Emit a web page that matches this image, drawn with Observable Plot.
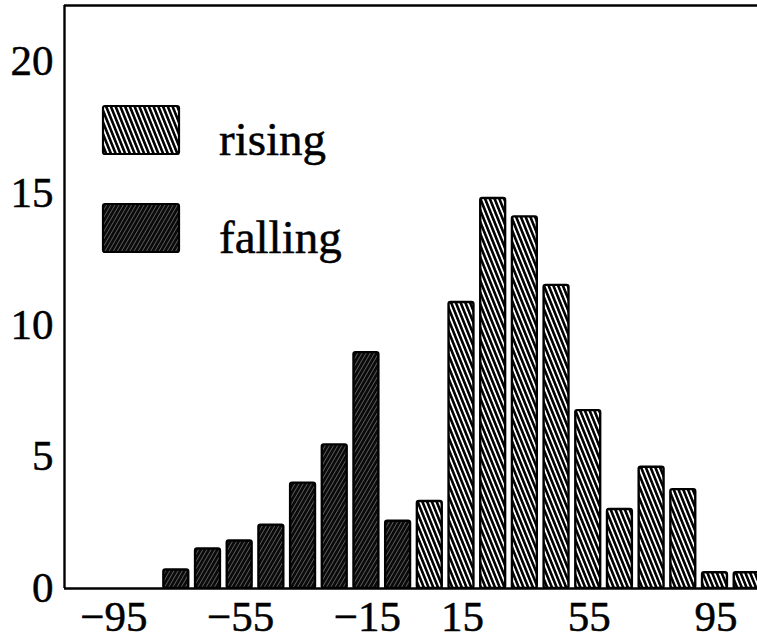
<!DOCTYPE html>
<html>
<head>
<meta charset="utf-8">
<script src="https://cdn.jsdelivr.net/npm/d3@7"></script>
<script src="https://cdn.jsdelivr.net/npm/@observablehq/plot@0.6"></script>
<style>
  html, body { margin: 0; padding: 0; background: #fff; overflow: hidden; }
  #chart svg { display: block; }
</style>
</head>
<body>
<div id="chart"></div>
<script>
// ---- data ----
const binCenters = [-75, -65, -55, -45, -35, -25, -15, -5, 5, 15, 25, 35, 45, 55, 65, 75, 85, 95, 105];
const counts     = [0.7, 1.5, 1.8, 2.4, 4.0, 5.45, 8.95, 2.55, 3.3, 10.85, 14.8, 14.1, 11.5, 6.75, 3.0, 4.6, 3.75, 0.6, 0.6];
const directions = ["falling","falling","falling","falling","falling","falling","falling","falling",
                    "rising","rising","rising","rising","rising","rising","rising","rising","rising","rising","rising"];
const binWidth = 10;
const xTicks = [-95, -55, -15, 15, 55, 95];
const yTicks = [0, 5, 10, 15, 20];
const legendLabels = ["rising", "falling"];
const xDomain = [-110.6, 108.1];
const yDomain = [0, 22.12];

const data = binCenters.map((c, i) => ({center: c, count: counts[i], dir: directions[i]}));
const fills = {rising: "url(#hatch-rising)", falling: "url(#hatch-falling)"};

const barOpts = dir => ({
  filter: d => d.dir === dir,
  x1: d => d.center - binWidth / 2,
  x2: d => d.center + binWidth / 2,
  y1: 0,
  y2: "count",
  fill: fills[dir],
  stroke: "#000",
  strokeWidth: 2.4,
  insetLeft: 2.4,
  insetRight: 4.4,
  rx: 2,
  clip: true
});

const chart = Plot.plot({
  width: 757,
  height: 640,
  marginLeft: 64,
  marginRight: 0,
  marginTop: 5,
  marginBottom: 52,
  style: {fontFamily: "'Liberation Serif', 'Times New Roman', serif", fontSize: "43px", color: "#000", background: "#fff"},
  x: {domain: xDomain, ticks: xTicks, tickSize: 0, tickPadding: 12, label: null},
  y: {domain: yDomain, ticks: yTicks, tickSize: 0, tickPadding: 11, label: null},
  marks: [
    Plot.rectY(data, barOpts("falling")),
    Plot.rectY(data, barOpts("rising")),
    Plot.ruleY([0], {stroke: "#000", strokeWidth: 2.4}),
    Plot.ruleY([yDomain[1]], {stroke: "#000", strokeWidth: 2.4}),
    Plot.ruleX([xDomain[0]], {stroke: "#000", strokeWidth: 2.4})
  ]
});

// hatch patterns
const svg = d3.select(chart);
svg.selectAll("g[aria-label$='tick label'] text, g[aria-label*='axis'] text").attr("stroke", "#000").attr("stroke-width", 0.5);
const defs = svg.insert("defs", ":first-child");
const pr = defs.append("pattern")
  .attr("id", "hatch-rising").attr("patternUnits", "userSpaceOnUse")
  .attr("width", 4.4).attr("height", 10)
  .attr("patternTransform", "rotate(-22)");
pr.append("rect").attr("width", 4.4).attr("height", 10).attr("fill", "#fff");
pr.append("rect").attr("width", 2.6).attr("height", 10).attr("fill", "#000");

const pf = defs.append("pattern")
  .attr("id", "hatch-falling").attr("patternUnits", "userSpaceOnUse")
  .attr("width", 3.6).attr("height", 10)
  .attr("patternTransform", "rotate(30)");
pf.append("rect").attr("width", 3.6).attr("height", 10).attr("fill", "#0a0a0a");
pf.append("rect").attr("width", 0.9).attr("height", 10).attr("fill", "#5c5c5c");

// legend inside the frame
const legend = svg.append("g")
  .attr("font-family", "'Liberation Serif', 'Times New Roman', serif")
  .attr("font-size", 47)
  .attr("text-anchor", "start");
legendLabels.forEach((lab, i) => {
  const top = 106 + i * 98;
  legend.append("rect")
    .attr("x", 103).attr("y", top).attr("width", 76).attr("height", 48).attr("rx", 2)
    .attr("fill", fills[lab]).attr("stroke", "#000").attr("stroke-width", 2.2);
  legend.append("text")
    .attr("x", 219).attr("y", top + 49).attr("text-anchor", "start")
    .attr("fill", "#000").attr("stroke", "#000").attr("stroke-width", 0.5).text(lab);
});

document.getElementById("chart").appendChild(chart);
</script>
</body>
</html>
